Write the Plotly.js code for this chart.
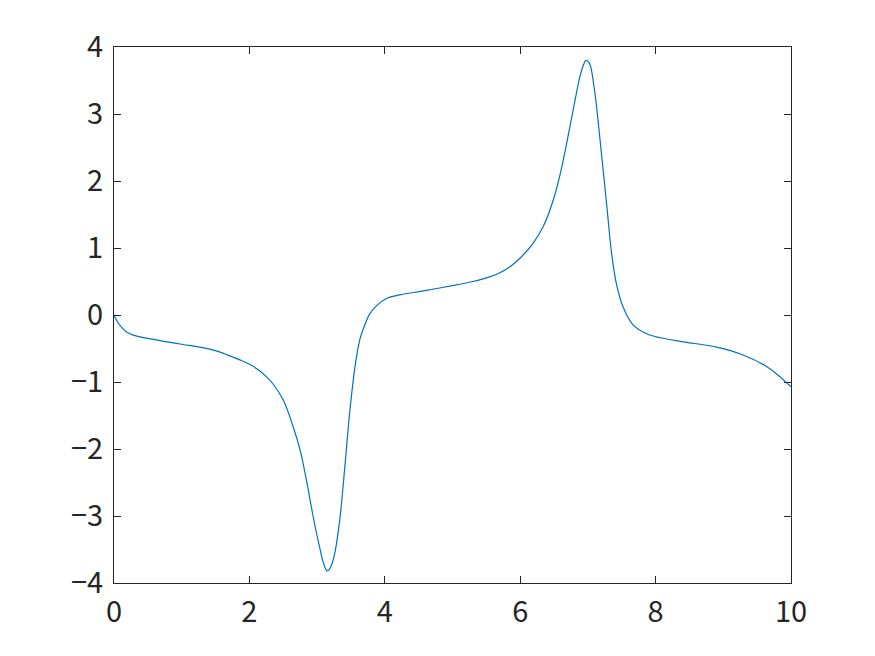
<!DOCTYPE html>
<html>
<head>
<meta charset="utf-8">
<script src="https://cdn.plot.ly/plotly-3.0.1.min.js"></script>
<style>html,body{margin:0;padding:0;background:#fff;}#chart{width:875px;height:656px;}</style>
</head>
<body>
<div id="chart"></div>
<script>
const xValues = [0, 0.05, 0.1, 0.18, 0.285, 0.5, 0.78, 1.02, 1.27, 1.52, 1.76, 1.86, 2.01, 2.16, 2.26, 2.35, 2.50, 2.65, 2.75, 2.845, 2.94, 3.04, 3.10, 3.15, 3.20, 3.26, 3.34, 3.41, 3.49, 3.56, 3.63, 3.70, 3.78, 3.88, 4.03, 4.22, 4.57, 5.06, 5.3, 5.55, 5.70, 5.85, 6.0, 6.19, 6.34, 6.49, 6.59, 6.69, 6.78, 6.88, 6.93, 6.97, 7.01, 7.04, 7.11, 7.19, 7.28, 7.35, 7.42, 7.52, 7.67, 7.87, 8.07, 8.41, 8.90, 9.30, 9.64, 10.0];
const yValues = [0, -0.10, -0.17, -0.25, -0.30, -0.35, -0.40, -0.44, -0.48, -0.54, -0.63, -0.67, -0.74, -0.84, -0.93, -1.03, -1.27, -1.68, -2.02, -2.48, -3.00, -3.48, -3.72, -3.82, -3.76, -3.56, -3.01, -2.26, -1.37, -0.77, -0.37, -0.16, 0.02, 0.14, 0.25, 0.30, 0.36, 0.45, 0.50, 0.57, 0.63, 0.72, 0.85, 1.07, 1.32, 1.72, 2.10, 2.58, 3.05, 3.55, 3.72, 3.80, 3.78, 3.71, 3.26, 2.51, 1.62, 0.92, 0.47, 0.12, -0.15, -0.28, -0.34, -0.40, -0.48, -0.60, -0.77, -1.07];
const xTicks = [0, 2, 4, 6, 8, 10];
const yTicks = [-4, -3, -2, -1, 0, 1, 2, 3, 4];
const yTickText = yTicks.map(v => v < 0 ? '\u2212' + Math.abs(v) : String(v));

const font = {family: '"Noto Sans CJK JP", "Noto Sans", sans-serif', size: 29, color: '#262626'};
const axisCommon = {
  showgrid: false, zeroline: false, showline: true, mirror: 'ticks',
  linecolor: '#262626', linewidth: 1, ticks: 'inside', ticklen: 7, tickcolor: '#262626',
  tickfont: font
};
Plotly.newPlot('chart', [{
  x: xValues, y: yValues, type: 'scatter', mode: 'lines',
  line: {color: '#0072BD', width: 1.2, shape: 'spline', smoothing: 1},
  hoverinfo: 'none'
}], {
  width: 875, height: 656,
  margin: {l: 114, r: 84, t: 47, b: 73},
  paper_bgcolor: '#fff', plot_bgcolor: '#fff',
  showlegend: false,
  xaxis: Object.assign({}, axisCommon, {range: [0, 10], tickvals: xTicks, ticktext: xTicks.map(String), ticklabelstandoff: 3}),
  yaxis: Object.assign({}, axisCommon, {range: [-4, 4], tickvals: yTicks, ticktext: yTickText, ticklabelstandoff: 4})
}, {staticPlot: true});
</script>
</body>
</html>
